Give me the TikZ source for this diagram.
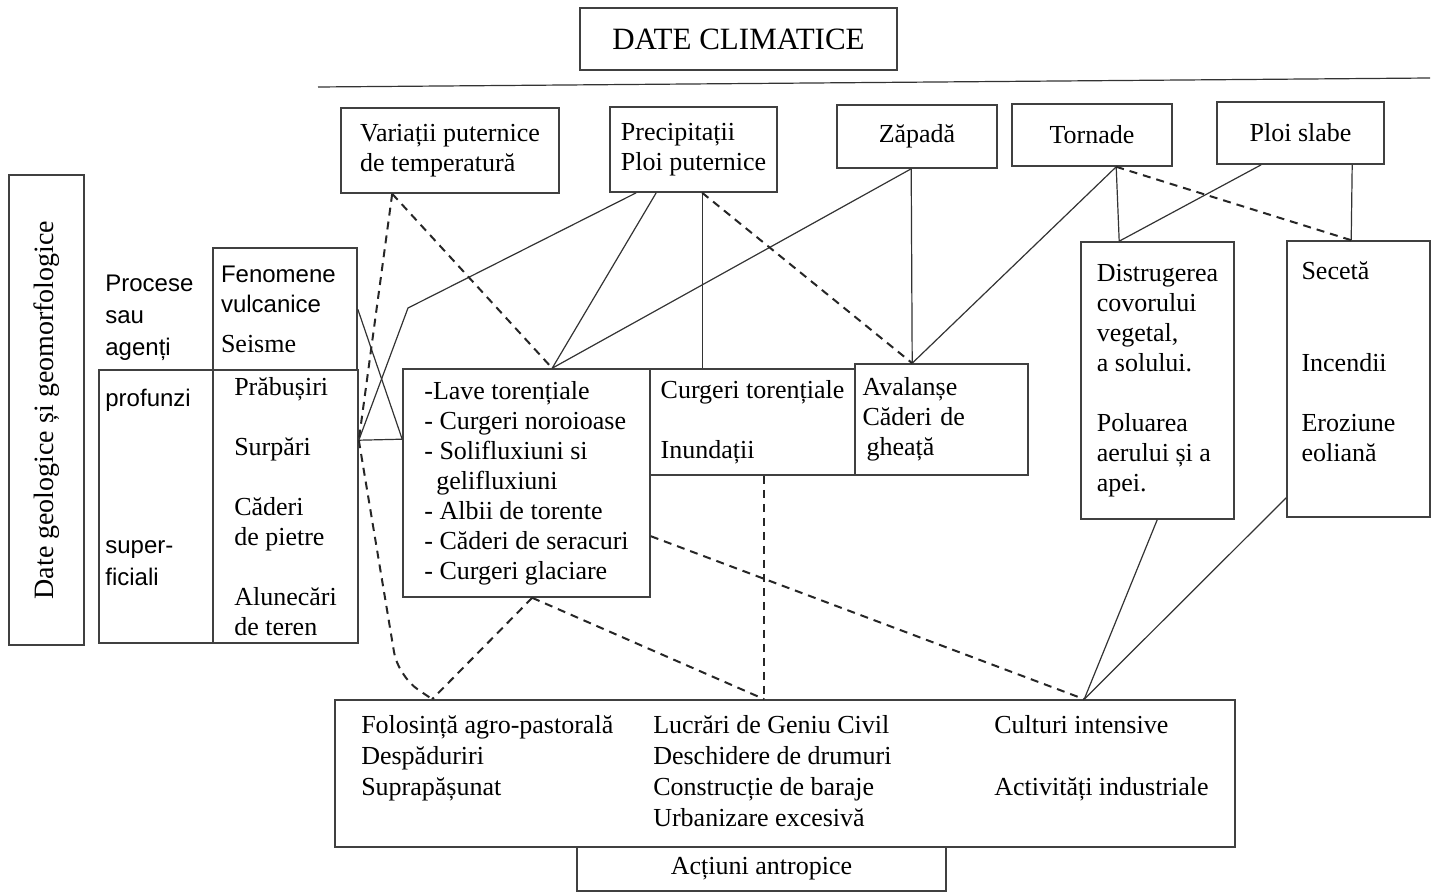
\documentclass[tikz,border=0pt]{standalone}
\usepackage{fontspec}
\setmainfont{Liberation Serif}
\setsansfont{Liberation Sans}
\usetikzlibrary{calc}

\tikzset{
  box/.style={draw=black!75, line width=0.8pt, inner sep=0pt, font=\fontsize{13}{15}\selectfont},
  cell/.style={box, align=left},
  sanslbl/.style={inner sep=0pt, align=left, font=\sffamily\fontsize{12}{16}\selectfont},
  solidln/.style={draw=black!80, line width=0.6pt},
  dashln/.style={draw=black!85, line width=1pt, dash pattern=on 4pt off 3pt},
}

\begin{document}
\begin{tikzpicture}[x=0.5pt,y=-0.5pt]
\useasboundingbox (0,0) rectangle (1435,893);

% date climatice
\node[box, minimum width=158.5pt, minimum height=31pt, font=\fontsize{15.5}{18}\selectfont] (climat) at (738.5,39) {DATE CLIMATICE};
\draw[solidln] (318,87) -- (1430,78);

\node[cell, minimum width=109pt, minimum height=42.5pt] (var) at (450,150.5) {Variații puternice\\de temperatură};
\node[cell, minimum width=83.5pt, minimum height=42.5pt] (prec) at (693.5,149.5) {Precipitații\\Ploi puternice};
\node[cell, minimum width=80pt, minimum height=31.5pt] (zap) at (917,136.5) {Zăpadă};
\node[cell, minimum width=80pt, minimum height=31pt] (torn) at (1092,135) {Tornade};
\node[cell, minimum width=83.5pt, minimum height=31pt] (ploi) at (1300.5,133) {Ploi slabe};

% date geologice
\node[box, rotate=90, minimum width=235pt, minimum height=37.5pt, font=\fontsize{14}{16}\selectfont] (geo) at (46.5,410) {Date geologice și geomorfologice};
\node[sanslbl, anchor=west] (proc) at (105,318) {Procese\\sau\\agenți};
\node[cell, minimum width=72pt, minimum height=61pt, text width=64pt] (fen) at (285,309) {\sffamily\fontsize{12}{15}\selectfont Fenomene\\vulcanice\\[5pt]\rmfamily\fontsize{13}{15}\selectfont Seisme};
\node[box, minimum width=57pt, minimum height=136.5pt] (adanc) at (156,506.5) {};
\node[cell, minimum width=72.5pt, minimum height=136.5pt] (forme) at (285.5,506.5) {Prăbușiri\\[15pt]Surpări\\[15pt]Căderi\\de pietre\\[15pt]Alunecări\\de teren};
\node[sanslbl, anchor=west] (prof) at (105,400) {profunzi};
\node[sanslbl, anchor=west] (sup) at (105,563) {super-\\ficiali};

% efecte
\node[cell, minimum width=123.5pt, minimum height=114pt] (lave) at (526.5,483) {-Lave torențiale\\- Curgeri noroioase\\- Solifluxiuni si\\\hspace*{6pt}gelifluxiuni\\- Albii de torente\\- Căderi de seracuri\\- Curgeri glaciare};
\node[cell, minimum width=102.5pt, minimum height=53pt] (curg) at (752.5,422) {Curgeri torențiale\\[15pt]Inundații};
\node[cell, minimum width=86.5pt, minimum height=55.5pt, text width=79pt] (aval) at (941.5,419.5) {Avalanșe\\Căderi de\\\hspace*{2pt}gheață};
\node[cell, minimum width=76.5pt, minimum height=138.5pt] (dist) at (1157.5,380.5) {Distrugerea\\covorului\\vegetal,\\a solului.\\[15pt]Poluarea\\aerului și a\\apei.};
\node[cell, minimum width=71.5pt, minimum height=138pt, text width=57pt] (sec) at (1358.5,379) {Secetă\\[31pt]Incendii\\[15pt]Eroziune\\eoliană\\[2pt]\mbox{}};

% actiuni antropice
\node[box, minimum width=450pt, minimum height=73.5pt] (antro) at (785,773.5) {\fontsize{13}{15.5}\selectfont
\begin{tabular}{@{}p{146pt}@{}p{170.5pt}@{}l@{}}
Folosință agro-pastorală & Lucrări de Geniu Civil & Culturi intensive\\
Despăduriri & Deschidere de drumuri & \\
Suprapășunat & Construcție de baraje & Activități industriale\\
 & Urbanizare excesivă & \\
\end{tabular}};
\node[box, minimum width=184.5pt, minimum height=22pt] (actiuni) at (761.5,869) {Acțiuni antropice};

% puncte de legatura
\coordinate (varB) at ($(var.south west)+(52,0)$);
\coordinate (precB1) at ($(prec.south west)+(27,0)$);
\coordinate (precB2) at ($(prec.south west)+(47,0)$);
\coordinate (precB3) at ($(prec.south west)+(93,0)$);
\coordinate (zapB) at ($(zap.south west)+(75,0)$);
\coordinate (tornB) at ($(torn.south west)+(105,0)$);
\coordinate (ploiB1) at ($(ploi.south west)+(45,0)$);
\coordinate (ploiB2) at ($(ploi.south west)+(136,0)$);
\coordinate (fenR) at ($(fen.north east)+(0,62)$);
\coordinate (formeR) at ($(forme.north east)+(0,71)$);
\coordinate (laveT) at ($(lave.north west)+(150,0)$);
\coordinate (laveL) at ($(lave.north west)+(0,71)$);
\coordinate (laveR) at ($(lave.north east)+(0,168)$);
\coordinate (laveB) at ($(lave.south west)+(130,0)$);
\coordinate (curgT) at ($(curg.north west)+(53,0)$);
\coordinate (curgB) at ($(curg.south west)+(115,0)$);
\coordinate (avalT) at ($(aval.north west)+(58,0)$);
\coordinate (distT) at ($(dist.north west)+(39,0)$);
\coordinate (distB) at ($(dist.south west)+(77,0)$);
\coordinate (secT) at ($(sec.north west)+(65,0)$);
\coordinate (secL) at ($(sec.south west)+(0,-20)$);
\coordinate (antro1) at ($(antro.north west)+(98,0)$);
\coordinate (antro2) at ($(antro.north west)+(430,0)$);
\coordinate (antro3) at ($(antro.north west)+(750,0)$);
\coordinate (kPrec) at (408,308);
\coordinate (kFol) at (398,676);

% legaturi continue
\draw[solidln] (precB1) -- (kPrec) -- (formeR);
\draw[solidln] (fenR) -- (laveL);
\draw[solidln] (formeR) -- (laveL);
\draw[solidln] (precB2) -- (laveT);
\draw[solidln] (precB3) -- (curgT);
\draw[solidln] (zapB) -- (laveT);
\draw[solidln] (zapB) -- (avalT);
\draw[solidln] (tornB) -- (avalT);
\draw[solidln] (tornB) -- (distT);
\draw[solidln] (ploiB1) -- (distT);
\draw[solidln] (ploiB2) -- (secT);
\draw[solidln] (distB) -- (antro3);
\draw[solidln] (secL) -- (antro3);

% legaturi punctate
\draw[dashln] (varB) -- (formeR);
\draw[dashln] (varB) -- (laveT);
\draw[dashln] (precB3) -- (avalT);
\draw[dashln] (tornB) -- (secT);
\draw[dashln, rounded corners=12pt] (formeR) -- (kFol) -- (antro1);
\draw[dashln] (laveB) -- (antro1);
\draw[dashln] (laveB) -- (antro2);
\draw[dashln] (laveR) -- (antro3);
\draw[dashln] (curgB) -- (antro2);
\end{tikzpicture}
\end{document}
